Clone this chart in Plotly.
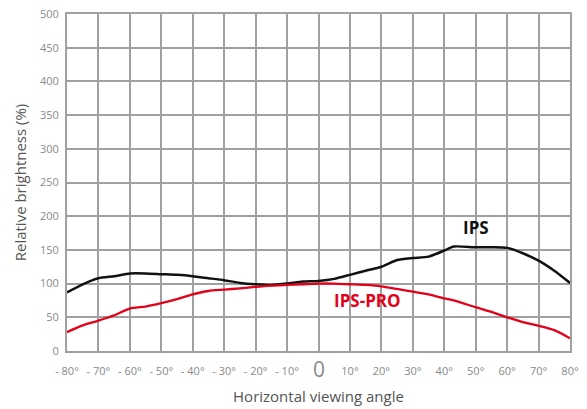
import plotly.graph_objects as go

angles = [-80, -75, -70, -65, -60, -55, -50, -45, -40, -35, -30, -25, -20, -15, -10, -5, 0, 5, 10, 15, 20, 25, 30, 35, 40, 43, 50, 55, 60, 65, 70, 75, 80]
ips = [87, 99, 108, 111, 115, 115, 114, 113, 111, 108, 105, 101, 99, 98, 100, 103, 104, 107, 113, 119, 125, 135, 138, 140, 149, 155, 154, 154, 153, 145, 134, 119, 101]
ips_pro = [28, 38, 45, 53, 63, 66, 71, 77, 84, 89, 91, 93, 95, 97, 98, 99, 100, 100, 99, 98, 96, 92, 88, 84, 78, 75, 65, 58, 50, 43, 37.5, 31, 19]

xtick_vals = [-80, -70, -60, -50, -40, -30, -20, -10, 0, 10, 20, 30, 40, 50, 60, 70, 80]
xtick_text = ["- 80°", "- 70°", "- 60°", "- 50°", "- 40°", "- 30°", "- 20°", "- 10°", "",
              "10°", "20°", "30°", "40°", "50°", "60°", "70°", "80°"]
zero_label = "0"
ytick_vals = [0, 50, 100, 150, 200, 250, 300, 350, 400, 450, 500]

grid = "#a0a0a2"
font = "Open Sans"

fig = go.Figure()
fig.add_trace(go.Scatter(x=angles, y=ips, mode="lines", line=dict(color="#111111", width=2.5, shape="spline", smoothing=0.6), name="IPS", showlegend=False))
fig.add_trace(go.Scatter(x=angles, y=ips_pro, mode="lines", line=dict(color="#e3001b", width=2.3, shape="spline", smoothing=0.6), name="IPS-PRO", showlegend=False))

fig.add_annotation(x=50, y=183, text="<b>IPS</b>", showarrow=False, font=dict(family=font, size=17, color="#111111"))
fig.add_annotation(x=15.5, y=75, text="<b>IPS-PRO</b>", showarrow=False, font=dict(family=font, size=17, color="#e3001b"))
fig.add_annotation(x=0, y=0, yref="paper", yanchor="middle", yshift=-18, text=zero_label, showarrow=False,
                   font=dict(family=font, size=21, color="#8a8a8a"))

fig.update_layout(
    width=587, height=409,
    margin=dict(l=67, r=17, t=14, b=58),
    paper_bgcolor="white", plot_bgcolor="white",
    font=dict(family=font, color="#8a8a8a"),
    xaxis=dict(range=[-80, 80], tickvals=xtick_vals, ticktext=xtick_text, automargin=False,
               showgrid=True, gridcolor=grid, gridwidth=1.5, zeroline=False,
               showline=True, linecolor=grid, linewidth=2, mirror=True,
               ticks="", ticklabelstandoff=9, tickfont=dict(size=11, color="#8a8a8a"),
               title=dict(text="Horizontal viewing angle", font=dict(size=15, color="#555555"), standoff=14)),
    yaxis=dict(range=[0, 500], tickvals=ytick_vals, automargin=False,
               showgrid=True, gridcolor=grid, gridwidth=1.5, zeroline=False,
               showline=True, linecolor=grid, linewidth=2, mirror=True,
               ticks="", ticklabelstandoff=4, tickfont=dict(size=11, color="#8a8a8a"),
               title=dict(text="Relative brightness (%)", font=dict(size=15, color="#555555"), standoff=10)),
)

fig.write_html("out.html", config={"displayModeBar": False},
               post_script="document.body.style.margin='0';document.body.style.overflow='hidden';")
